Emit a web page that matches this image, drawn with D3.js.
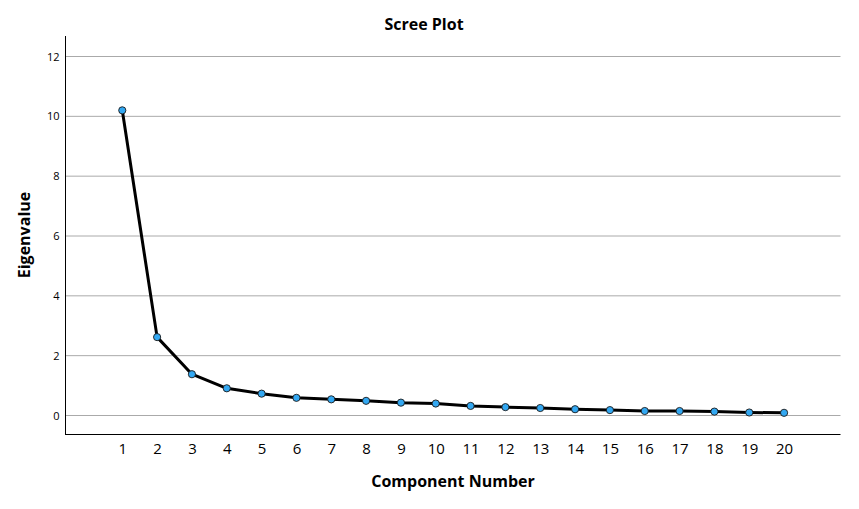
<!DOCTYPE html>
<html><head><meta charset="utf-8">
<script src="https://cdn.jsdelivr.net/npm/d3@7"></script>
<style>body{margin:0;background:#fff}svg{display:block}</style>
</head><body>
<svg id="c" width="859" height="509"></svg>
<script>
const components = [1,2,3,4,5,6,7,8,9,10,11,12,13,14,15,16,17,18,19,20];
const eigenvalues = [10.2,2.62,1.38,0.91,0.73,0.59,0.54,0.49,0.43,0.40,0.32,0.28,0.25,0.21,0.18,0.15,0.15,0.13,0.10,0.09];
const yTicks = [0,2,4,6,8,10,12];
const title = "Scree Plot", xTitle = "Component Number", yTitle = "Eigenvalue";

const svg = d3.select("#c");
const L = 65.5, R = 840.5, T = 36, B = 434.5;
const x = d3.scaleLinear().domain([-0.63, 21.62]).range([L, R]);
const y = d3.scaleLinear().domain([0, 12]).range([415.5, 56.5]);
const font = "'Open Sans', 'DejaVu Sans', sans-serif";

// gridlines
svg.append("g").selectAll("line").data(yTicks).join("line")
  .attr("x1", L).attr("x2", R).attr("y1", d => y(d)).attr("y2", d => y(d))
  .attr("stroke", "#aaaaaa").attr("stroke-width", 1);

// y axis
const ya = svg.append("g").attr("transform", `translate(${L},0)`)
  .call(d3.axisLeft(y).tickValues(yTicks).tickSize(0).tickPadding(6));
ya.select(".domain").remove();
ya.selectAll("text").attr("font-family", font).attr("font-size", 11).attr("fill", "#000");
svg.append("line").attr("x1", L).attr("x2", L).attr("y1", T).attr("y2", B + 0.5).attr("stroke", "#000");

// x axis
const xa = svg.append("g").attr("transform", `translate(0,${B})`)
  .call(d3.axisBottom(x).tickValues(components).tickFormat(d3.format("d")).tickSize(0).tickPadding(9));
xa.select(".domain").remove();
xa.selectAll("text").attr("font-family", font).attr("font-size", 15).attr("fill", "#000");
svg.append("line").attr("x1", L).attr("x2", R).attr("y1", B).attr("y2", B).attr("stroke", "#000");

// line
const data = components.map((c, i) => ({c, v: eigenvalues[i]}));
svg.append("path").datum(data)
  .attr("d", d3.line().x(d => x(d.c)).y(d => y(d.v)))
  .attr("fill", "none").attr("stroke", "#000").attr("stroke-width", 3).attr("stroke-linejoin", "round");
svg.append("g").selectAll("circle").data(data).join("circle")
  .attr("cx", d => x(d.c)).attr("cy", d => y(d.v)).attr("r", 3.6)
  .attr("fill", "#33a8f2").attr("stroke", "#1a1a1a").attr("stroke-width", 0.9);

// titles
svg.append("text").attr("x", 424).attr("y", 30).attr("text-anchor", "middle")
  .attr("font-family", font).attr("font-weight", "bold").attr("font-size", 16).text(title);
svg.append("text").attr("x", 453).attr("y", 487).attr("text-anchor", "middle")
  .attr("font-family", font).attr("font-weight", "bold").attr("font-size", 16).text(xTitle);
svg.append("text").attr("transform", "translate(30,235) rotate(-90)").attr("text-anchor", "middle")
  .attr("font-family", font).attr("font-weight", "bold").attr("font-size", 16).text(yTitle);
</script>
</body></html>
